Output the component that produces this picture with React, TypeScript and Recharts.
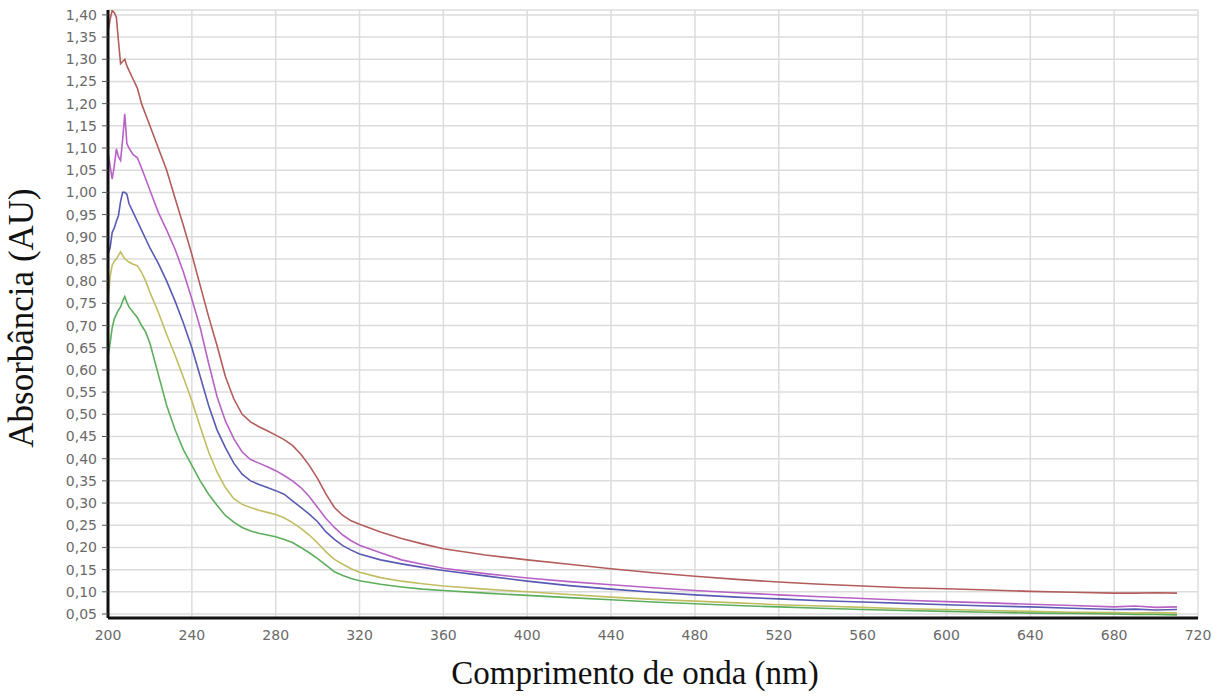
import React from "react";
import { LineChart, Line, XAxis, YAxis, CartesianGrid } from "recharts";

const WAVELENGTHS = [200, 201, 202, 203, 204, 205, 206, 207, 208, 209, 210, 212, 214, 216, 218, 220, 224, 228, 232, 236, 240, 244, 248, 252, 256, 260, 264, 268, 272, 276, 280, 284, 288, 292, 296, 300, 304, 308, 312, 316, 320, 330, 340, 350, 360, 380, 400, 420, 440, 460, 480, 500, 520, 540, 560, 580, 600, 620, 640, 660, 680, 690, 700, 710];

const SERIES_RED = [1.36, 1.39, 1.41, 1.405, 1.395, 1.34, 1.29, 1.295, 1.3, 1.285, 1.275, 1.255, 1.235, 1.2, 1.175, 1.15, 1.1, 1.05, 0.987, 0.925, 0.86, 0.79, 0.72, 0.655, 0.585, 0.535, 0.5, 0.483, 0.472, 0.463, 0.453, 0.443, 0.43, 0.41, 0.385, 0.355, 0.32, 0.29, 0.272, 0.26, 0.252, 0.235, 0.22, 0.208, 0.197, 0.183, 0.172, 0.162, 0.152, 0.143, 0.135, 0.128, 0.122, 0.117, 0.113, 0.109, 0.107, 0.104, 0.101, 0.099, 0.097, 0.097, 0.098, 0.097];

const SERIES_MAGENTA = [1.09, 1.06, 1.03, 1.06, 1.098, 1.08, 1.072, 1.12, 1.177, 1.11, 1.1, 1.085, 1.078, 1.055, 1.03, 1.005, 0.955, 0.915, 0.872, 0.82, 0.76, 0.695, 0.615, 0.54, 0.485, 0.445, 0.415, 0.398, 0.39, 0.382, 0.373, 0.362, 0.35, 0.335, 0.315, 0.29, 0.265, 0.245, 0.228, 0.215, 0.205, 0.188, 0.172, 0.162, 0.153, 0.141, 0.131, 0.123, 0.116, 0.109, 0.103, 0.098, 0.093, 0.089, 0.085, 0.081, 0.078, 0.075, 0.072, 0.069, 0.066, 0.068, 0.065, 0.066];

const SERIES_BLUE = [0.86, 0.875, 0.91, 0.92, 0.935, 0.948, 0.98, 1.0, 1.0, 0.996, 0.975, 0.955, 0.935, 0.915, 0.895, 0.875, 0.84, 0.8, 0.755, 0.705, 0.65, 0.585, 0.52, 0.465, 0.425, 0.39, 0.365, 0.35, 0.342, 0.335, 0.328, 0.32, 0.305, 0.29, 0.275, 0.258, 0.235, 0.218, 0.204, 0.194, 0.185, 0.172, 0.163, 0.155, 0.148, 0.136, 0.124, 0.114, 0.106, 0.099, 0.093, 0.088, 0.084, 0.08, 0.077, 0.074, 0.071, 0.068, 0.066, 0.063, 0.06, 0.061, 0.059, 0.06];

const SERIES_YELLOW = [0.76, 0.81, 0.836, 0.845, 0.85, 0.858, 0.866, 0.858, 0.85, 0.847, 0.843, 0.838, 0.835, 0.82, 0.8, 0.775, 0.73, 0.68, 0.633, 0.583, 0.53, 0.472, 0.415, 0.37, 0.335, 0.31, 0.297, 0.29, 0.284, 0.279, 0.274, 0.267, 0.256, 0.243, 0.228, 0.21, 0.19, 0.173, 0.162, 0.152, 0.144, 0.132, 0.124, 0.118, 0.113, 0.106, 0.1, 0.094, 0.088, 0.083, 0.079, 0.075, 0.071, 0.068, 0.065, 0.062, 0.06, 0.058, 0.056, 0.054, 0.053, 0.052, 0.053, 0.052];

const SERIES_GREEN = [0.63, 0.66, 0.695, 0.715, 0.725, 0.735, 0.742, 0.755, 0.765, 0.752, 0.742, 0.73, 0.718, 0.7, 0.685, 0.66, 0.59, 0.52, 0.465, 0.42, 0.385, 0.35, 0.32, 0.295, 0.272, 0.257, 0.245, 0.237, 0.232, 0.228, 0.224, 0.218, 0.211, 0.2, 0.188, 0.175, 0.16, 0.145, 0.137, 0.13, 0.125, 0.117, 0.111, 0.106, 0.103, 0.097, 0.092, 0.087, 0.082, 0.077, 0.073, 0.069, 0.066, 0.063, 0.06, 0.058, 0.056, 0.054, 0.052, 0.051, 0.05, 0.049, 0.049, 0.048];

const X_TICKS = [200, 240, 280, 320, 360, 400, 440, 480, 520, 560, 600, 640, 680, 720];
const X_GRID = [240, 280, 320, 360, 400, 440, 480, 520, 560, 600, 640, 680];
const Y_TICKS = [0.05, 0.1, 0.15, 0.2, 0.25, 0.3, 0.35, 0.4, 0.45, 0.5, 0.55, 0.6, 0.65, 0.7, 0.75, 0.8, 0.85, 0.9, 0.95, 1.0, 1.05, 1.1, 1.15, 1.2, 1.25, 1.3, 1.35, 1.4];
const X_MINOR = Array.from({ length: 66 }, (_, i) => 200 + i * 8);
const Y_MINOR = Array.from({ length: 136 }, (_, i) => Math.round((0.05 + i * 0.01) * 1000) / 1000);

const X_DOMAIN: [number, number] = [200, 720];
const Y_DOMAIN: [number, number] = [0.041, 1.411];

const data = WAVELENGTHS.map((nm, i) => ({
  nm,
  red: SERIES_RED[i],
  magenta: SERIES_MAGENTA[i],
  blue: SERIES_BLUE[i],
  yellow: SERIES_YELLOW[i],
  green: SERIES_GREEN[i],
}));

const SERIES = [
  { key: "red", color: "#b35c5c" },
  { key: "magenta", color: "#b862c6" },
  { key: "blue", color: "#5a5ab4" },
  { key: "yellow", color: "#c0bd62" },
  { key: "green", color: "#5cae5c" },
];

const fmt = (v: number) => v.toFixed(2).replace(".", ",");

const tickStyle = { fill: "#6a6a6a", fontSize: 14, fontFamily: "DejaVu Sans, Verdana, sans-serif" };
const titleFont = "'Liberation Serif', 'Times New Roman', serif";

const XTitle = (props: any) => {
  const { viewBox } = props;
  const cx = viewBox.x + viewBox.width / 2 - 18;
  return (
    <text x={cx} y={viewBox.y + 66} textAnchor="middle" fontFamily={titleFont} fontSize={33} fill="#111">
      Comprimento de onda (nm)
    </text>
  );
};

const YTitle = (props: any) => {
  const { viewBox } = props;
  const cy = viewBox.y + viewBox.height / 2 + 4;
  const x = 33;
  return (
    <text x={x} y={cy} transform={`rotate(-90, ${x}, ${cy})`} textAnchor="middle" fontFamily={titleFont} fontSize={35} fill="#111">
      Absorbância (AU)
    </text>
  );
};

export default function App() {
  return (
    <div style={{ position: "absolute", left: 0, top: 0, width: 1232, height: 698, background: "#fff" }}>
      <LineChart width={1232} height={698} data={data} margin={{ top: 10, right: 34, bottom: 0, left: 0 }}>
        <CartesianGrid stroke="#dcdcdc" strokeWidth={1.5} vertical={false} />
        <CartesianGrid stroke="#dcdcdc" strokeWidth={1.5} horizontal={false} xAxisId="grid" />
        <XAxis xAxisId="grid" dataKey="nm" type="number" domain={X_DOMAIN} ticks={X_GRID} interval={0} hide allowDataOverflow />
        <XAxis
          xAxisId="minor"
          dataKey="nm"
          type="number"
          domain={X_DOMAIN}
          ticks={X_MINOR}
          interval={0}
          height={0}
          axisLine={false}
          tickLine={{ stroke: "#888", strokeWidth: 1 }}
          tickSize={3}
          tickFormatter={() => ""}
          allowDataOverflow
        />
        <XAxis
          dataKey="nm"
          type="number"
          domain={X_DOMAIN}
          ticks={X_TICKS}
          interval={0}
          height={80}
          axisLine={{ stroke: "#111", strokeWidth: 3 }}
          tickLine={false}
          tickSize={6}
          tickMargin={6}
          tick={tickStyle}
          allowDataOverflow
          label={<XTitle />}
        />
        <YAxis
          yAxisId="minor"
          type="number"
          domain={Y_DOMAIN}
          ticks={Y_MINOR}
          interval={0}
          width={0}
          axisLine={false}
          tickLine={{ stroke: "#888", strokeWidth: 1 }}
          tickSize={3}
          tickFormatter={() => ""}
          allowDataOverflow
        />
        <YAxis
          type="number"
          domain={Y_DOMAIN}
          ticks={Y_TICKS}
          interval={0}
          width={108}
          axisLine={{ stroke: "#111", strokeWidth: 3 }}
          tickLine={{ stroke: "#555", strokeWidth: 1 }}
          tickSize={6}
          tickMargin={5}
          tick={tickStyle}
          tickFormatter={fmt}
          allowDataOverflow
          label={<YTitle />}
        />
        {SERIES.map((s) => (
          <Line
            key={s.key}
            type="linear"
            dataKey={s.key}
            stroke={s.color}
            strokeWidth={1.6}
            dot={false}
            activeDot={false}
            isAnimationActive={false}
          />
        ))}
      </LineChart>
    </div>
  );
}
